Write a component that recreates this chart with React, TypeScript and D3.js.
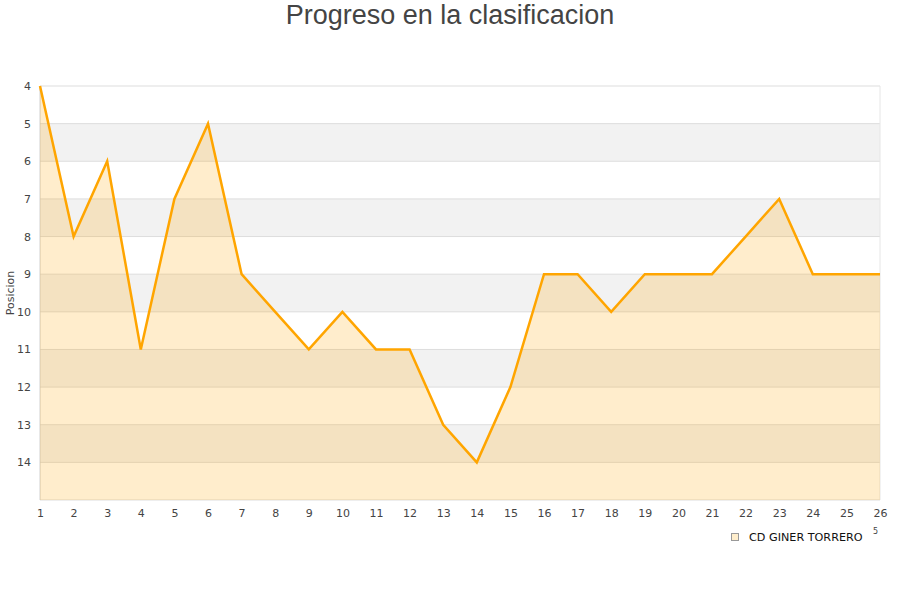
import { useEffect, useRef } from 'react'
import * as d3 from 'd3'

const jornadas = [1, 2, 3, 4, 5, 6, 7, 8, 9, 10, 11, 12, 13, 14, 15, 16, 17, 18, 19, 20, 21, 22, 23, 24, 25, 26]
const posiciones = [4, 8, 6, 11, 7, 5, 9, 10, 11, 10, 11, 11, 13, 14, 12, 9, 9, 10, 9, 9, 9, 8, 7, 9, 9, 9]
const yTicks = [4, 5, 6, 7, 8, 9, 10, 11, 12, 13, 14]
const teamName = 'CD GINER TORRERO'
const title = 'Progreso en la clasificacion'

const FONT = 'DejaVu Sans, sans-serif'

export default function App() {
  const svgRef = useRef<SVGSVGElement>(null)

  useEffect(() => {
    const svgEl = svgRef.current
    if (!svgEl) return
    const root = d3.select(svgEl)
    root.selectAll('*').remove()

    const margin = { top: 86, right: 20, bottom: 100, left: 40 }
    const W = 900 - margin.left - margin.right
    const H = 600 - margin.top - margin.bottom

    const x = d3.scaleLinear().domain([1, 26]).range([0, W])
    const y = d3.scaleLinear().domain([4, 15]).range([0, H])

    root.append('text')
      .attr('x', 450).attr('y', 24)
      .attr('text-anchor', 'middle')
      .attr('font-family', 'Liberation Sans, Arial, sans-serif')
      .attr('font-size', 27)
      .attr('fill', '#444')
      .text(title)

    const g = root.append('g').attr('transform', `translate(${margin.left},${margin.top})`)

    // alternating bands
    d3.range(4, 15).forEach(v => {
      g.append('rect')
        .attr('x', 0).attr('y', y(v))
        .attr('width', W).attr('height', y(v + 1) - y(v))
        .attr('fill', v % 2 === 1 ? '#f2f2f2' : '#ffffff')
    })

    // gridlines
    d3.range(4, 16).forEach(v => {
      g.append('line')
        .attr('x1', 0).attr('x2', W)
        .attr('y1', y(v)).attr('y2', y(v))
        .attr('stroke', '#dddddd').attr('stroke-width', 1)
    })
    g.append('line').attr('x1', 0).attr('x2', 0).attr('y1', 0).attr('y2', H)
      .attr('stroke', '#d0d0d0')
    g.append('line').attr('x1', W).attr('x2', W).attr('y1', 0).attr('y2', H)
      .attr('stroke', '#e6e6e6')

    const pts = jornadas.map((j, i) => ({ j, p: posiciones[i] }))

    const area = d3.area<{ j: number; p: number }>()
      .x(d => x(d.j)).y0(y(15)).y1(d => y(d.p))
    g.append('path').datum(pts)
      .attr('d', area)
      .attr('fill', 'rgba(255,165,0,0.2)')

    const line = d3.line<{ j: number; p: number }>()
      .x(d => x(d.j)).y(d => y(d.p))
    g.append('path').datum(pts)
      .attr('d', line)
      .attr('fill', 'none')
      .attr('stroke', '#ffa500')
      .attr('stroke-width', 2.5)
      .attr('stroke-linejoin', 'miter')

    g.append('g')
      .attr('transform', `translate(0,${H})`)
      .call(d3.axisBottom(x).tickValues(jornadas).tickFormat(d3.format('d')).tickSize(0))
      .call(ax => {
        ax.select('.domain').remove()
        ax.selectAll('.tick text')
          .attr('font-family', FONT).attr('font-size', 11)
          .attr('fill', '#444').attr('dy', 14)
      })

    g.append('g')
      .call(d3.axisLeft(y).tickValues(yTicks).tickFormat(d3.format('d')).tickSize(0))
      .call(ax => {
        ax.select('.domain').remove()
        ax.selectAll('.tick text')
          .attr('font-family', FONT).attr('font-size', 11)
          .attr('fill', '#444').attr('dx', -6)
      })

    root.append('text')
      .attr('transform', 'rotate(-90)')
      .attr('x', -293).attr('y', 14)
      .attr('text-anchor', 'middle')
      .attr('font-family', FONT).attr('font-size', 11)
      .attr('fill', '#444')
      .text('Posicion')

    // legend
    root.append('rect')
      .attr('x', 731.5).attr('y', 533.5).attr('width', 7).attr('height', 7)
      .attr('fill', '#ffeecc').attr('stroke', '#999').attr('stroke-width', 1)
    root.append('text')
      .attr('x', 749).attr('y', 541)
      .attr('font-family', FONT).attr('font-size', 11.2)
      .attr('fill', '#111')
      .text(teamName)
    root.append('text')
      .attr('x', 873).attr('y', 534)
      .attr('font-family', FONT).attr('font-size', 8)
      .attr('fill', '#444')
      .text('5')
  }, [])

  return (
    <svg ref={svgRef} width={900} height={600}
      style={{ position: 'absolute', left: 0, top: 0, background: '#fff' }} />
  )
}
